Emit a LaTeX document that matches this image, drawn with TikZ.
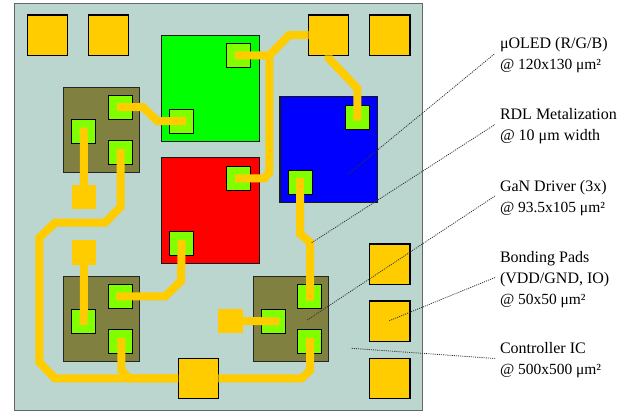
\documentclass[tikz,border=0pt]{standalone}
\usepackage{fontspec}
\setmainfont{Liberation Serif}
\definecolor{chipc}{HTML}{BBD5CF}
\definecolor{padc}{HTML}{FFCC00}
\definecolor{contactc}{HTML}{80FF00}
\definecolor{driverc}{HTML}{808040}
\newcommand{\areafont}{\fontsize{11.6}{15.75}\selectfont}
\tikzset{
  box/.style={rectangle,inner sep=0pt,outer sep=0pt},
  chipbox/.style={box,draw=black!60,line width=0.9pt,fill=chipc,minimum width=305.8pt,minimum height=305.8pt},
  bondpad/.style={box,draw=black,line width=0.85pt,fill=padc,minimum size=30.2pt},
  smallpad/.style={box,fill=padc,minimum size=18.2pt},
  led/.style={box,draw=black!90,line width=0.85pt,minimum width=73pt,minimum height=79.5pt},
  driver/.style={box,draw=black!85,line width=0.85pt,fill=driverc,minimum width=56.8pt,minimum height=63.75pt},
  contact/.style={box,draw=black,line width=0.85pt,fill=contactc,minimum size=18pt},
  trace/.style={draw=padc,line width=6pt},
  leader/.style={draw=black!80,line width=0.6pt,dash pattern=on 0.8pt off 0.8pt},
  note/.style={box,anchor=west,align=left,inner xsep=3.75pt,font=\fontsize{12}{15.75}\selectfont},
}
\begin{document}
\begin{tikzpicture}[x=0.75pt,y=-0.75pt]
\useasboundingbox (0,0) rectangle (629,413);
\node[chipbox] (chip) at (218.5,207) {};
% bonding pads
\node[bondpad] (p1) at (47.2,35.2) {};
\node[bondpad] (p2) at (108.4,35.2) {};
\node[bondpad] (p3) at (328.7,35.2) {};
\node[bondpad] (p4) at (389.8,35.2) {};
\node[bondpad] (p5) at (389.8,264.2) {};
\node[bondpad] (p6) at (389.8,321.2) {};
\node[bondpad] (p7) at (389.8,378.5) {};
\node[bondpad] (p8) at (198.2,378.5) {};
% small pads
\node[smallpad] (sp1) at (84,197) {};
\node[smallpad] (sp2) at (84,252.5) {};
\node[smallpad] (sp3) at (230.5,321.2) {};
% microLEDs
\node[led,fill=green] (ledg) at (210.4,88.3) {};
\node[led,fill=red] (ledr) at (210.4,210.8) {};
\node[led,fill=blue] (ledb) at (328.7,149.5) {};
% drivers
\node[driver] (d1) at (101.5,129.8) {};
\node[driver] (d2) at (101.5,319.2) {};
\node[driver] (d3) at (291,319.2) {};
% contacts
\node[contact] (d1a) at (120.5,107.2) {};
\node[contact] (d1b) at (83.7,131.6) {};
\node[contact] (d1c) at (120.5,152.3) {};
\node[contact] (g1) at (181.7,121.2) {};
\node[contact] (g2) at (238.8,55.5) {};
\node[contact] (r1) at (238.8,178.3) {};
\node[contact] (r2) at (181.7,243.7) {};
\node[contact] (b1) at (357.3,117.2) {};
\node[contact] (b2) at (300.2,182.5) {};
\node[contact] (d2a) at (120.5,296.5) {};
\node[contact] (d2b) at (83.7,321.3) {};
\node[contact] (d2c) at (120.5,341.7) {};
\node[contact] (d3a) at (309.8,296.5) {};
\node[contact] (d3b) at (273.3,321.3) {};
\node[contact] (d3c) at (309.8,341.7) {};
% traces
\draw[trace] ([shift={(-3.5,0)}]d1a.center) -- (143,107.2) -- (157.5,121.2) -- ([shift={(4.3,0)}]g1.center);
\draw[trace] ([shift={(0,-4)}]d1b.center) -- (sp1.north);
\draw[trace] ([shift={(0,-3.3)}]d1c.center) -- (120.5,207) -- (105,222.7) -- (55,222.7) -- (39.3,237.7) -- (39.3,362.3) -- (55,378.5) -- (p8.west);
\draw[trace] ([shift={(-4.2,0)}]d2a.center) -- (165,296.5) -- (181,281) -- ([shift={(0,-3.7)}]r2.center);
\draw[trace] (sp2.south) -- ([shift={(0,3.7)}]d2b.center);
\draw[trace] ([shift={(0.8,-3.7)}]d2c.center) -- (121.3,370) -- (129.5,378.5) -- (p8.west);
\draw[trace] (p8.east) -- (301.5,378.5) -- (310,370.5) -- ([shift={(0.2,-3.7)}]d3c.center);
\draw[trace] ([shift={(0.2,4.2)}]d3a.center) -- (310,242.3) -- (300.2,234) -- ([shift={(0,-4.5)}]b2.center);
\draw[trace] (sp3.east) -- ([shift={(6,0)}]d3b.center);
\draw[trace] (p3.south) -- (328.7,58.3) -- (357.3,88.3) -- ([shift={(0,3.5)}]b1.center);
\draw[trace] ([shift={(-3.8,0)}]g2.center) -- (269.3,55.5) -- (289,35.2) -- (p3.west);
\draw[trace] ([shift={(-3.8,0)}]r1.center) -- (264.5,178.3) -- (269.3,172.5) -- (269.3,55.5);
% labels
\node[note] (nled) at (495,55.5) {μOLED (R/G/B)\\{\areafont @ 120x130 μm²}};
\node[note] (nrdl) at (495,126.5) {RDL Metalization\\@ 10 μm width};
\node[note] (ngan) at (495,198) {GaN Driver (3x)\\{\areafont @ 93.5x105 μm²}};
\node[note] (nbond) at (495,279.5) {Bonding Pads\\(VDD/GND, IO)\\{\areafont @ 50x50 μm²}};
\node[note] (nctl) at (495,360.5) {Controller IC\\{\areafont @ 500x500 μm²}};
% leaders
\coordinate (aled) at (348.3,174);
\coordinate (ardl) at (311.7,242.7);
\coordinate (agan) at (307.3,320);
\coordinate (abond) at (389.3,320.7);
\coordinate (actl) at (351.7,348.3);
\draw[leader] (aled) -- ([shift={(0,-2)}]nled.west);
\draw[leader] (ardl) -- ([shift={(0,-2)}]nrdl.west);
\draw[leader] (agan) -- ([shift={(0,-2)}]ngan.west);
\draw[leader] (abond) -- ([shift={(0,-2)}]nbond.west);
\draw[leader] (actl) -- ([shift={(0,-2)}]nctl.west);
\end{tikzpicture}
\end{document}
